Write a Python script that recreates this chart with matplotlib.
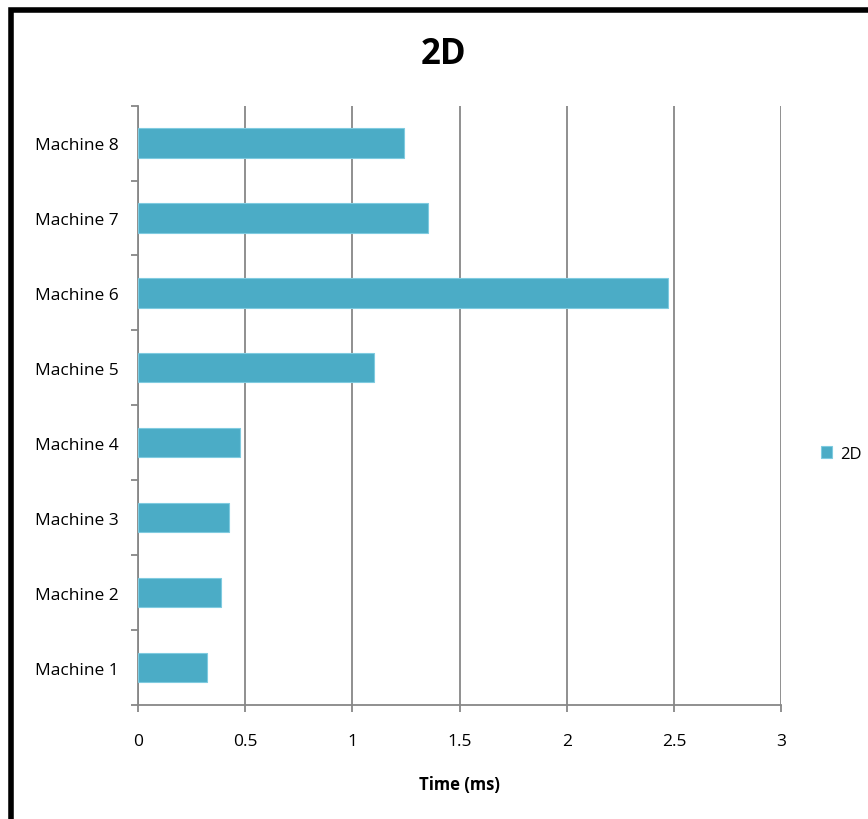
import matplotlib.pyplot as plt
from matplotlib.patches import Rectangle

# maskiner och uppmätta tider (ms)
machines = ['Machine 1', 'Machine 2', 'Machine 3', 'Machine 4',
            'Machine 5', 'Machine 6', 'Machine 7', 'Machine 8']
times_2d = [0.323, 0.389, 0.425, 0.474, 1.101, 2.472, 1.352, 1.239]
x_ticks = [0, 0.5, 1, 1.5, 2, 2.5, 3]

plt.rcParams['font.family'] = ['Open Sans', 'DejaVu Sans']

fig = plt.figure(figsize=(8.68, 8.2), dpi=100)
ax = fig.add_axes([0.159, 0.139, 0.741, 0.731])

grey = '#878787'
pos = list(range(len(machines)))
ax.barh(pos, times_2d, height=0.39, color='#4bacc6', edgecolor='#7fcbe0',
        linewidth=0.8, label='2D', zorder=3)

ax.set_xlim(0, 3)
ax.set_ylim(-0.5, len(machines) - 0.5)
ax.set_xticks(x_ticks)
ax.set_xticklabels(['0', '0.5', '1', '1.5', '2', '2.5', '3'], fontsize=12.5)
ax.grid(axis='x', color=grey, linewidth=1.3, zorder=0)

# kategorietiketter mellan tick-strecken
ax.set_yticks([p - 0.5 for p in pos] + [len(machines) - 0.5])
ax.set_yticklabels([])
ax.set_yticks(pos, minor=True)
ax.set_yticklabels(machines, minor=True, fontsize=12.5)
ax.tick_params(axis='y', which='minor', length=0, pad=14)
ax.tick_params(axis='y', which='major', length=5, width=1.3, color=grey, direction='out')
ax.tick_params(axis='x', length=5, width=1.3, color=grey, direction='out', pad=15)

for side in ['top', 'right']:
    ax.spines[side].set_visible(False)
for side in ['left', 'bottom']:
    ax.spines[side].set_color(grey)
    ax.spines[side].set_linewidth(1.3)

fig.text(0.5115, 0.933, '2D', fontsize=25, fontweight='bold', ha='center', va='center')
ax.set_xlabel('Time (ms)', fontsize=12, fontweight='bold', labelpad=19)

ax.legend(loc='center left', bbox_to_anchor=(0.928, 0.445), bbox_transform=fig.transFigure,
          frameon=False, fontsize=12, handlelength=0.7, handleheight=0.7, handletextpad=0.5)

# svart ram runt diagrammet
fig.patches.append(Rectangle((0.0128, -0.05), 1.05, 0.0366 + 1.0, transform=fig.transFigure,
                             fill=False, edgecolor='black', linewidth=4, zorder=10))

plt.savefig('out.png', dpi=100)
